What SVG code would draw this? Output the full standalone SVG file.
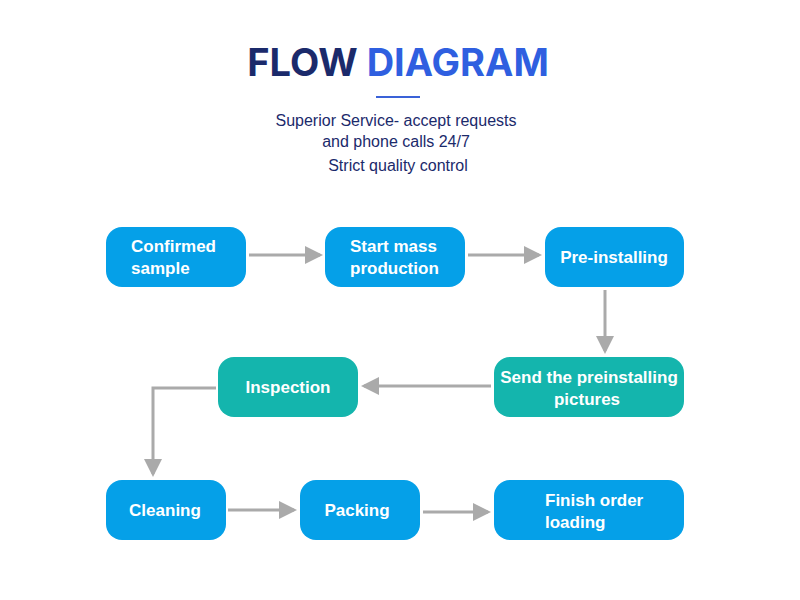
<svg xmlns="http://www.w3.org/2000/svg" width="800" height="600" viewBox="0 0 800 600">
<style>
.b{fill:#05a0e8}.t{fill:#14b5ad}
.l{font-family:"Liberation Sans",Arial,sans-serif;font-weight:bold;font-size:17px;fill:#fff}
.c{fill:none;stroke:#aaaaaa;stroke-width:3}
.s{font-family:"Liberation Sans",Arial,sans-serif;font-size:16px;fill:#1b2a6b;text-anchor:middle}
</style>
<defs><marker id="a" markerWidth="6" markerHeight="6" refX="5" refY="3" orient="auto" markerUnits="strokeWidth"><path d="M0,0L6,3L0,6z" fill="#aaaaaa"/></marker></defs>
<rect width="800" height="600" fill="#fff"/>
<g id="title">
<text x="398" y="76" font-family="Inter,'Liberation Sans',sans-serif" font-weight="bold" font-size="38" text-anchor="middle"><tspan fill="#1b2a6b">FLOW </tspan><tspan fill="#2f5fe0">DIAGRAM</tspan></text>
<line x1="376" y1="97" x2="420" y2="97" stroke="#3a62d8" stroke-width="2"/>
<text class="s" x="396" y="126">Superior Service- accept requests</text>
<text class="s" x="396" y="147">and phone calls 24/7</text>
<text class="s" x="398" y="171">Strict quality control</text>
</g>
<g id="connectors">
<path class="c" d="M249,255H320" marker-end="url(#a)"/>
<path class="c" d="M468,255H539" marker-end="url(#a)"/>
<path class="c" d="M605,290V351" marker-end="url(#a)"/>
<path class="c" d="M491,386H364" marker-end="url(#a)"/>
<path class="c" d="M216,388H153V474" marker-end="url(#a)"/>
<path class="c" d="M228,510H294" marker-end="url(#a)"/>
<path class="c" d="M423,512H488" marker-end="url(#a)"/>
</g>
<g id="n1"><rect class="b" x="106" y="227" width="140" height="60" rx="16"/><text class="l" x="131" y="252">Confirmed</text><text class="l" x="131" y="274">sample</text></g>
<g id="n2"><rect class="b" x="325" y="227" width="140" height="60" rx="16"/><text class="l" x="350" y="252">Start mass</text><text class="l" x="350" y="274">production</text></g>
<g id="n3"><rect class="b" x="545" y="227" width="139" height="60" rx="16"/><text class="l" x="614" y="263" text-anchor="middle">Pre-installing</text></g>
<g id="n4"><rect class="t" x="494" y="357" width="190" height="60" rx="16"/><text class="l" x="589" y="383" text-anchor="middle">Send the preinstalling</text><text class="l" x="587" y="405" text-anchor="middle">pictures</text></g>
<g id="n5"><rect class="t" x="218" y="357" width="140" height="60" rx="16"/><text class="l" x="288" y="393" text-anchor="middle">Inspection</text></g>
<g id="n6"><rect class="b" x="106" y="480" width="120" height="60" rx="16"/><text class="l" x="165" y="516" text-anchor="middle">Cleaning</text></g>
<g id="n7"><rect class="b" x="300" y="480" width="120" height="60" rx="16"/><text class="l" x="357" y="516" text-anchor="middle">Packing</text></g>
<g id="n8"><rect class="b" x="494" y="480" width="190" height="60" rx="16"/><text class="l" x="545" y="506">Finish order</text><text class="l" x="545" y="528">loading</text></g>
</svg>
